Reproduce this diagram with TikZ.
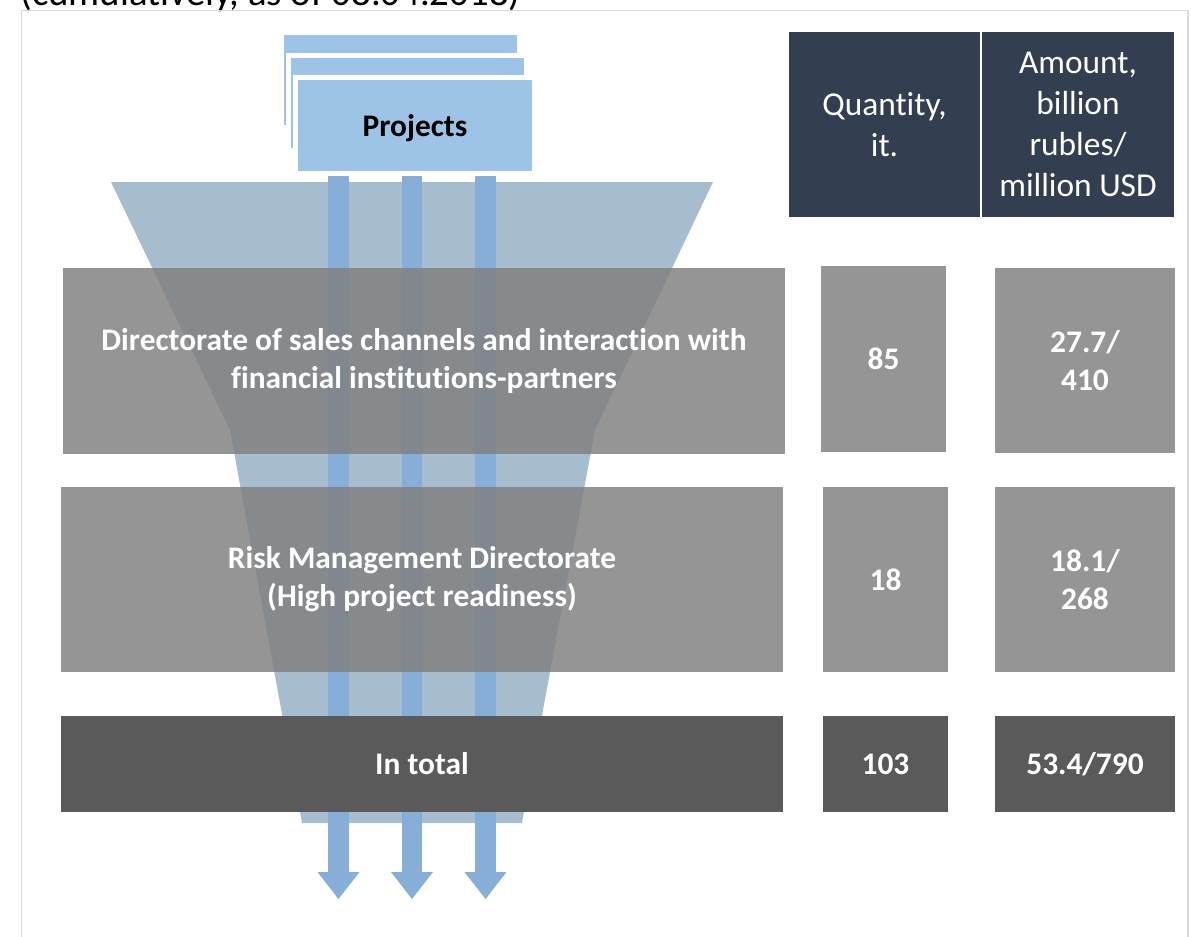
\documentclass[tikz,border=0pt]{standalone}
\usepackage{fontspec}
\setmainfont{Carlito}[Ligatures={NoCommon,NoContextual}]
\usetikzlibrary{arrows.meta,calc}
\definecolor{projblue}{HTML}{9DC3E6}
\definecolor{barblue}{HTML}{87AED7}
\definecolor{funnelc}{HTML}{A6BDCF}
\definecolor{navy}{HTML}{333F50}
\definecolor{midgray}{HTML}{959595}
\definecolor{boxgray}{HTML}{808080}
\definecolor{darkgray}{HTML}{5A5A5A}
\definecolor{framegray}{HTML}{D9D9D9}
\newcommand{\boxfont}{\fontsize{17.86}{21.5}\selectfont\bfseries}
\newcommand{\headfont}{\fontsize{19}{23.2}\selectfont}
\newcommand{\tiNoLig}{t\kern0pt i}
\begin{document}
\begin{tikzpicture}[x=0.02cm,y=-0.02cm,
  projbox/.style={fill=projblue,draw=white,line width=2.83pt,minimum width=4.77cm,minimum height=1.91cm,inner sep=0pt},
  bar/.style={draw=barblue,line width=11.9pt,-{Triangle[width=23.8pt,length=15.3pt,line width=0pt]}},
  leftbox/.style={fill=boxgray,fill opacity=0.83,text opacity=1,text=white,minimum width=14.44cm,inner sep=0pt,outer sep=0pt,align=center,font=\boxfont},
  totalbox/.style={fill=darkgray,text=white,minimum width=14.44cm,minimum height=1.92cm,inner sep=0pt,outer sep=0pt,align=center,font=\boxfont},
  headbox/.style={fill=navy,text=white,minimum height=3.7cm,inner sep=0pt,outer sep=0pt,align=center,font=\headfont},
  numbox/.style={fill=midgray,text=white,inner sep=0pt,outer sep=0pt,align=center,font=\boxfont},
  sumbox/.style={fill=darkgray,text=white,minimum height=1.92cm,inner sep=0pt,outer sep=0pt,align=center,font=\boxfont}]
\useasboundingbox (0,0) rectangle (1191,937);
\clip (0,0) rectangle (1191,937);
\fill[white] (0,0) rectangle (1191,937);
% title (cut off at top, as in the reference)
\node[anchor=base west,inner sep=0pt,font=\fontsize{22.1}{26}\selectfont] (title) at (20,5) {(cumulatively, as of 08.04.2018)};
% frame
\draw[framegray,line width=1.13pt] (21.5,10.5) rectangle (1187.5,980);
% funnel
\fill[funnelc] (111,182) -- (713,182) -- (595,430) -- (522,823) -- (302,823) -- (230,430) -- cycle;
% project stack
\node[projbox] (projback) at (400.5,80) {};
\node[projbox] (projmid) at (407.5,103) {};
\node[projbox] (proj) at (415,125.5) {};
\node[font=\boxfont,text=black,inner sep=0pt] (projlabel) at ($(proj.center)+(0,3)$) {Projects};
% arrows
\coordinate (t1) at (338.5,899);
\coordinate (t2) at (412,899);
\coordinate (t3) at (485.5,899);
\draw[bar] (proj.south -| t1) -- (t1);
\draw[bar] (proj.south -| t2) -- (t2);
\draw[bar] (proj.south -| t3) -- (t3);
% left boxes
\node[leftbox,minimum height=3.72cm] (dir1) at (424,361) {\rule{0pt}{0pt}\raisebox{0pt}{}Directorate of sales channels and interac\tiNoLig on with\\financial ins\tiNoLig tu\tiNoLig ons-partners};
\node[leftbox,minimum height=3.70cm] (dir2) at (422,579.5) {Risk Management Directorate\\(High project readiness)};
\node[totalbox] (total) at (422,764) {In total};
% header
\node[headbox,minimum width=3.82cm] (hq) at (884.5,124.5) {Quan\tiNoLig ty,\\it.};
\node[headbox,minimum width=3.84cm] (ha) at (1078,124.5) {Amount,\\billion\\rubles/\\million USD};
% numbers
\node[numbox,minimum width=2.5cm,minimum height=3.72cm] (q1) at (883.5,359) {85};
\node[numbox,minimum width=3.6cm,minimum height=3.7cm] (a1) at (1085,360.5) {27.7/\\410};
\node[numbox,minimum width=2.5cm,minimum height=3.7cm] (q2) at (885.5,579.5) {18};
\node[numbox,minimum width=3.6cm,minimum height=3.7cm] (a2) at (1085,579.5) {18.1/\\268};
\node[sumbox,minimum width=2.5cm] (q3) at (885.5,764) {103};
\node[sumbox,minimum width=3.6cm] (a3) at (1085,764) {53.4/790};
\end{tikzpicture}
\end{document}
